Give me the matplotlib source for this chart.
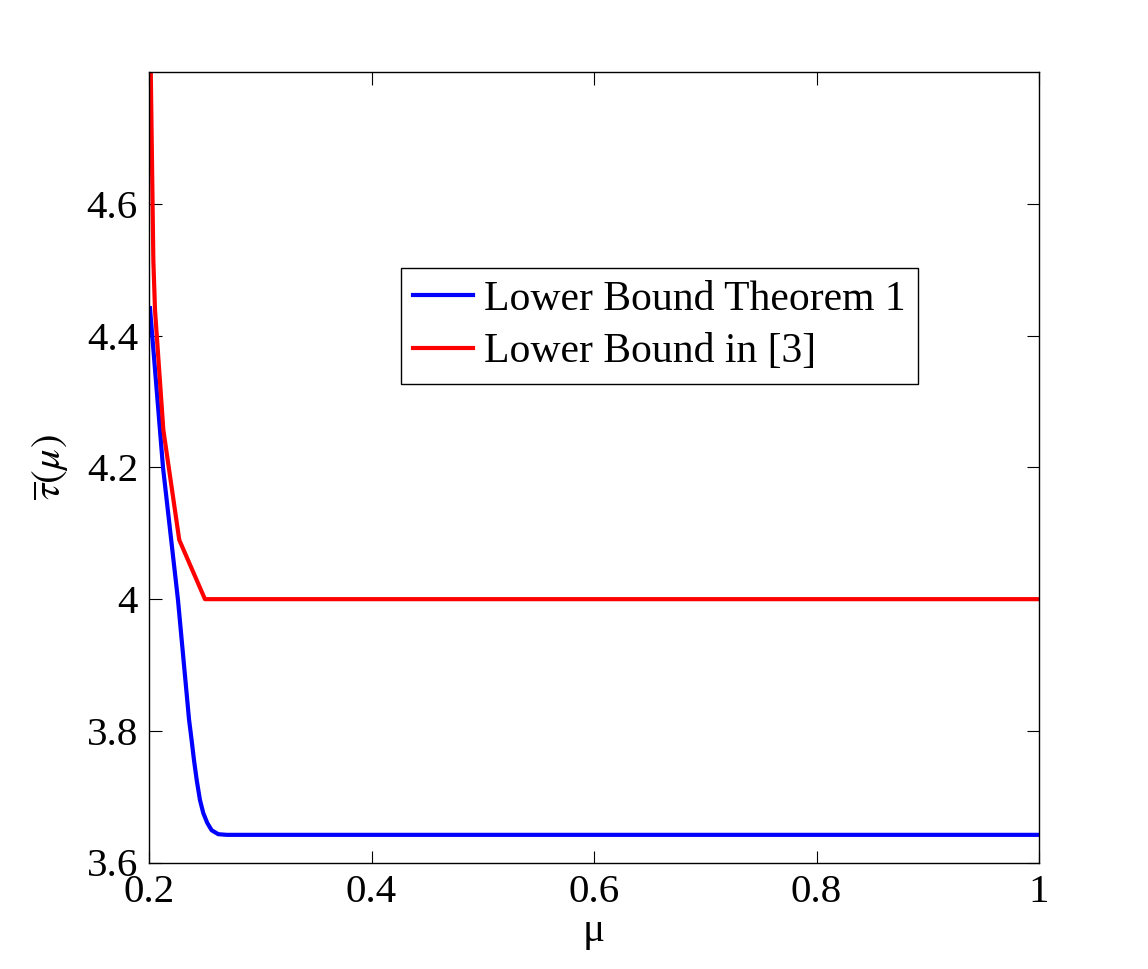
import matplotlib
matplotlib.use("Agg")
import matplotlib.pyplot as plt
from matplotlib.ticker import FuncFormatter

plt.rcParams['font.family'] = ['Liberation Serif', 'DejaVu Serif']
plt.rcParams['mathtext.fontset'] = 'stix'

# Data
mu_blue = [0.2009, 0.2126, 0.2261, 0.2360, 0.2383, 0.2404, 0.2429, 0.2458,
           0.2488, 0.2524, 0.2563, 0.2623, 0.2698, 1.0]
tau_blue = [4.442, 4.200, 3.998, 3.817, 3.786, 3.756, 3.725, 3.695,
            3.675, 3.660, 3.649, 3.643, 3.642, 3.642]

mu_red = [0.2000, 0.2039, 0.2054, 0.2129, 0.2272, 0.2503, 1.0]
tau_red = [5.000, 4.515, 4.439, 4.257, 4.090, 4.000, 4.000]

xticks = [0.2, 0.4, 0.6, 0.8, 1.0]
yticks = [3.6, 3.8, 4.0, 4.2, 4.4, 4.6]
labels = ['Lower Bound Theorem 1', 'Lower Bound in [3]']

fig = plt.figure(figsize=(11.48, 9.69), dpi=100)
ax = fig.add_axes([149/1148, 1 - 862.5/969, 890/1148, 790/969])

ax.plot(mu_blue, tau_blue, color='#0000ff', lw=3, label=labels[0])
ax.plot(mu_red, tau_red, color='#ff0000', lw=3, label=labels[1])

ax.set_xlim(0.2, 1.0)
ax.set_ylim(3.6, 4.8)
ax.set_xticks(xticks)
ax.set_yticks(yticks)
fmt = FuncFormatter(lambda v, p: ('%g' % round(v, 3)))
ax.xaxis.set_major_formatter(fmt)
ax.yaxis.set_major_formatter(fmt)
ax.tick_params(direction='in', length=9, width=0.8, labelsize=29.5,
               top=True, right=True, pad=8)
for s in ax.spines.values():
    s.set_linewidth(1.0)

ax.set_xlabel('μ', fontsize=29.5, labelpad=2)
ax.set_ylabel(r'$\overline{\tau}(\mu)$', fontsize=29.5, labelpad=12)

leg = ax.legend(loc='upper left', bbox_to_anchor=(0.283, 0.7525),
                borderaxespad=0, fancybox=False, edgecolor='black',
                fontsize=30, handlelength=1.44, handletextpad=0.26,
                borderpad=0.3, labelspacing=0.33, framealpha=1)
leg.get_frame().set_linewidth(1.0)

fig.savefig('out.png', dpi=100)
